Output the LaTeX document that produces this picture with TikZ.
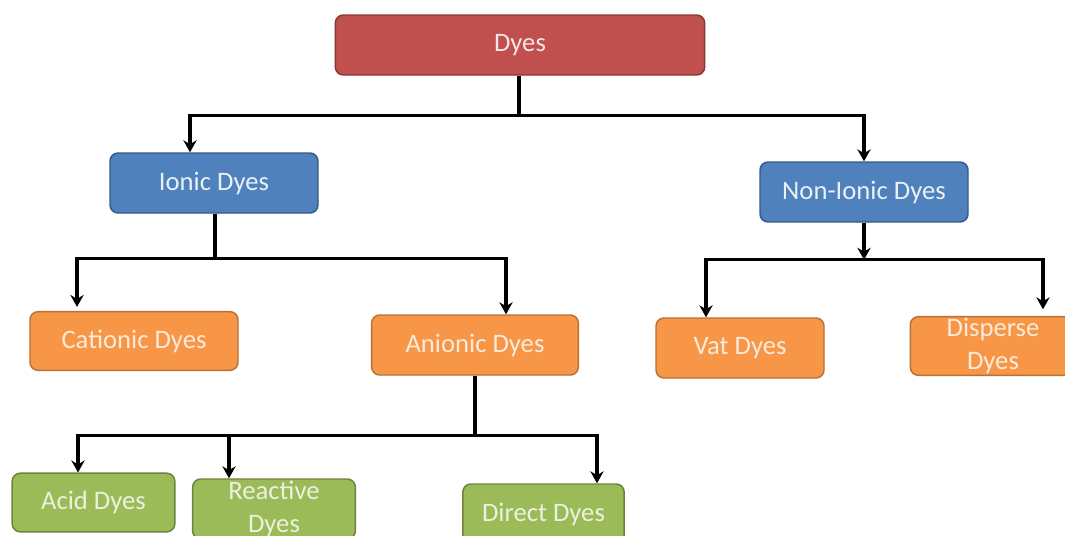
\documentclass[tikz,border=0pt]{standalone}
\usepackage{fontspec}
\setmainfont{Carlito}
\usetikzlibrary{arrows.meta,calc}

\definecolor{dyered}{HTML}{C0504D}
\definecolor{dyeblue}{HTML}{4F81BD}
\definecolor{dyeorange}{HTML}{F79646}
\definecolor{dyegreen}{HTML}{9BBB59}

\begin{document}
\begin{tikzpicture}[x=0.75pt, y=-0.75pt, >={Stealth[length=9pt,width=10pt,inset=3pt]},
		box/.style={rounded corners=6pt, line width=1.1pt, inner sep=0pt, align=center,
				minimum height=45pt, font=\fontsize{20}{25}\selectfont},
		redbox/.style={box, fill=dyered, draw=dyered!70!black, text=white!85!dyered},
		bluebox/.style={box, fill=dyeblue, draw=dyeblue!70!black, text=white!88!dyeblue},
		orangebox/.style={box, fill=dyeorange, draw=dyeorange!75!black, text=white!80!dyeorange},
		greenbox/.style={box, fill=dyegreen, draw=dyegreen!70!black, text=white!80!dyegreen},
		link/.style={line width=2.3pt}]
	\clip (0,0) rectangle (1065,536);
	\fill[white] (0,0) rectangle (1065,536);

	\node[redbox, minimum width=277pt] (dyes) at (520,45) {Dyes};

	\node[bluebox, minimum width=156pt] (ionic) at (214,183) {Ionic Dyes};
	\node[bluebox, minimum width=156pt] (nonionic) at (864,192) {Non-Ionic Dyes};

	\node[orangebox, minimum width=156pt, minimum height=44pt] (cationic) at (134,341) {Cationic Dyes};
	\node[orangebox, minimum width=155pt] (anionic) at (475,345) {Anionic Dyes};
	\node[orangebox, minimum width=126pt] (vat) at (740,348) {Vat Dyes};
	\node[orangebox, minimum width=124pt, minimum height=44pt] (disperse) at (993,346) {Disperse\\Dyes};

	\node[greenbox, minimum width=122pt, minimum height=44pt] (acid) at (93.5,502.5) {Acid Dyes};
	\node[greenbox, minimum width=122pt] (reactive) at (274,509) {Reactive\\Dyes};
	\node[greenbox, minimum width=121pt] (direct) at (543.5,514) {Direct Dyes};

	\coordinate (b1) at ($(dyes.south)+(-1,40)$);
	\draw[link] (dyes.south -| b1) -- (b1);
	\draw[link, ->] (b1) -| ($(ionic.north)+(-24,0)$);
	\draw[link, ->] (b1) -| (nonionic.north);

	\coordinate (b2) at ($(ionic.south)+(1,45)$);
	\draw[link] (ionic.south -| b2) -- (b2);
	\draw[link, ->, shorten >=3pt] (b2) -| ($(cationic.north)+(-57,0)$);
	\draw[link, ->] (b2) -| ($(anionic.north)+(31,0)$);

	\coordinate (b3) at ($(nonionic.south)+(0,37)$);
	\draw[link, ->] (nonionic.south) -- (b3);
	\draw[link, ->] (b3) -| ($(vat.north)+(-34,0)$);
	\draw[link, ->, shorten >=5pt] (b3) -| ($(disperse.north)+(50,0)$);

	\coordinate (b4) at ($(anionic.south)+(0,60)$);
	\draw[link] (anionic.south) -- (b4);
	\draw[link, ->] (b4) -| ($(acid.north)+(-15.5,0)$);
	\draw[link, ->] (b4) -| ($(reactive.north)+(-45,0)$);
	\draw[link, ->] (b4) -| ($(direct.north)+(53.5,0)$);
\end{tikzpicture}
\end{document}
